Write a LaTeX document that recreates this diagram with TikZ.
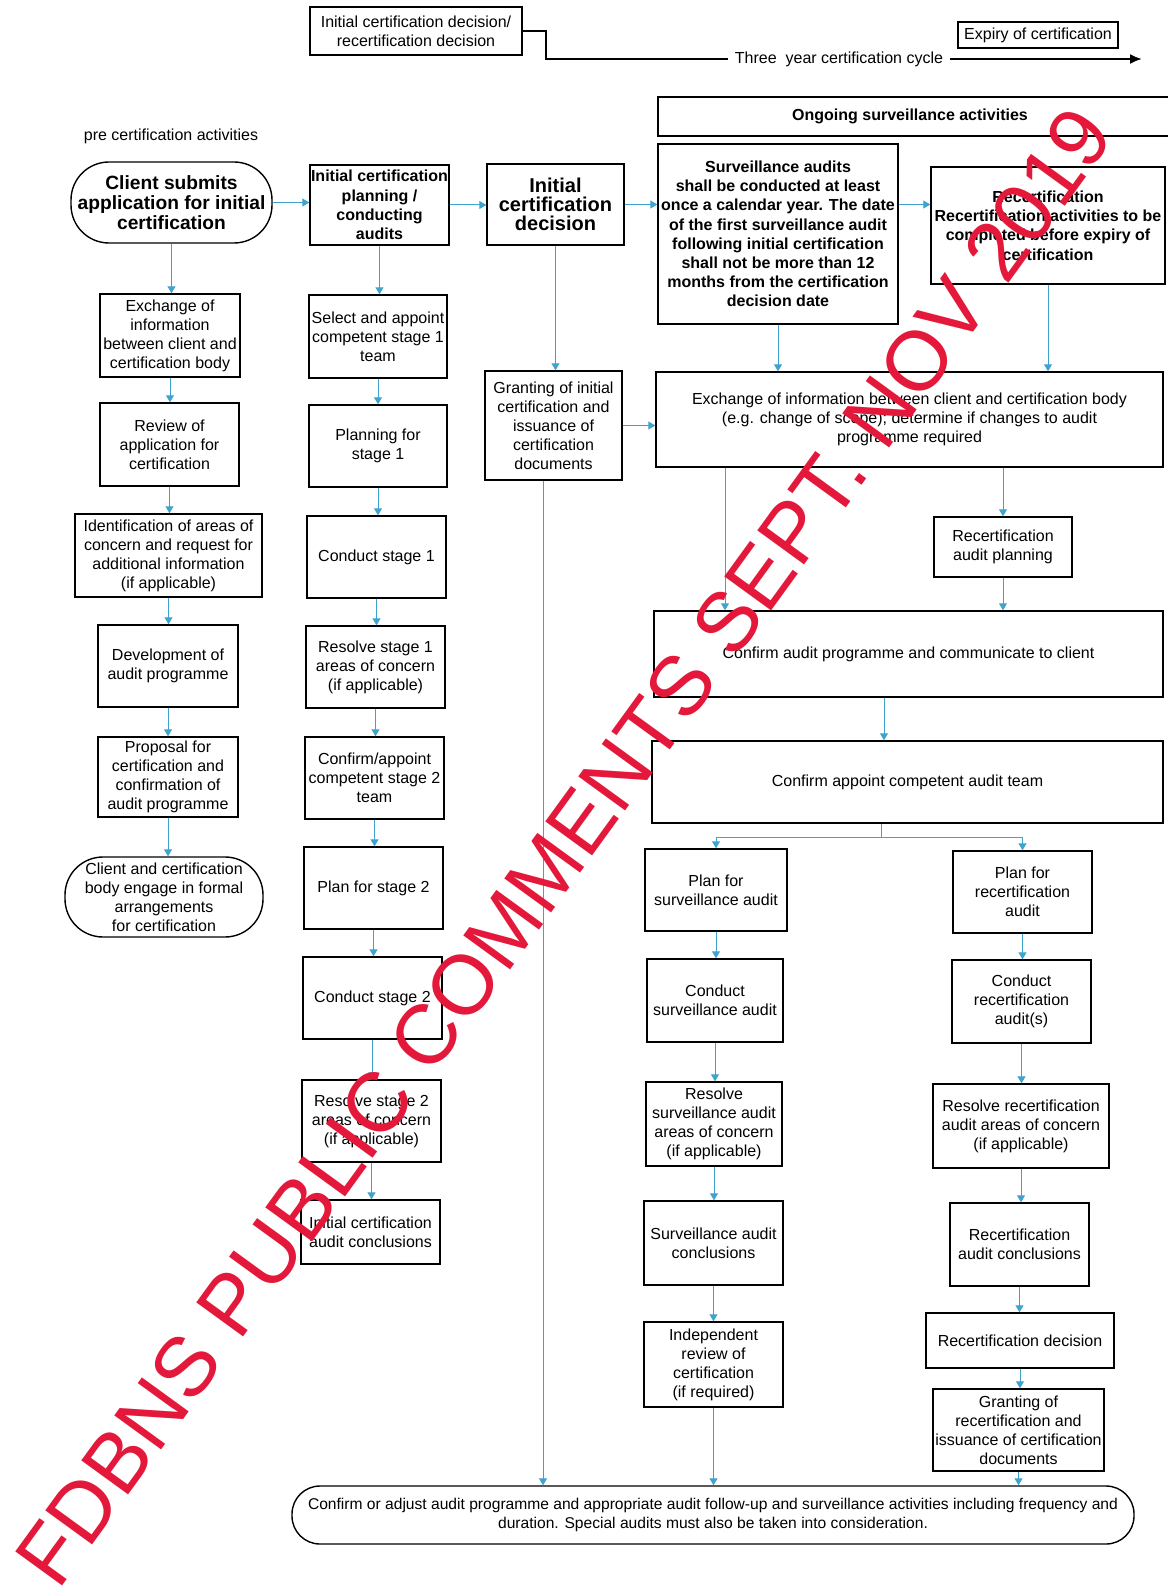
\documentclass[tikz,border=0pt]{standalone}
\usepackage{fontspec}
\setmainfont{Liberation Sans}
\usepackage{graphicx}
\usetikzlibrary{arrows.meta}

\definecolor{linkblue}{RGB}{62,163,205}
\definecolor{stampred}{RGB}{228,24,58}

\tikzset{
  stepbox/.style={draw, line width=0.7pt, inner sep=0pt, align=center, font=\fontsize{8}{9.5}\selectfont},
  ovalbox/.style={stepbox, rounded corners=19pt},
  headbox/.style={stepbox, font=\fontsize{8}{9.6}\selectfont\bfseries},
  flow/.style={draw=linkblue, line width=0.5pt, -{Triangle[width=4pt,length=3.5pt]}},
  feed/.style={draw=linkblue, line width=0.5pt},
}

% box from corner (x1,y1) to corner (x2,y2), in pixels of the page
\newcommand{\stepnode}[7][]{%
  \pgfmathsetmacro\boxW{(#5-#3)*0.5}%
  \pgfmathsetmacro\boxH{(#6-#4)*0.5}%
  \node[stepbox, minimum width=\boxW pt, minimum height=\boxH pt, #1] (#2) at ({(#3+#5)/2},{(#4+#6)/2}) {#7};}

\begin{document}
\begin{tikzpicture}[x=0.5pt, y=-0.5pt]
\useasboundingbox (0,0) rectangle (1167,1589);

% certification cycle
\stepnode{cert}{310}{7}{522}{55}{Initial certification decision/\\recertification decision}
\stepnode{expiry}{958}{22}{1118}{48}{Expiry of certification}
\node[font=\fontsize{8}{9.5}\selectfont] (cyc) at (839,59) {Three~ year certification cycle};
\coordinate (cycEnd) at (1142,59);
\draw[line width=1pt] (cert.east) -- ++(23,0) |- (cyc.west);
\draw[line width=1pt, -{Latex[length=6pt,width=5pt]}] (cyc.east) -- (cycEnd);

\draw[line width=1.2pt] (1175,97) -| (658,136) -- (1175,136);
\node[font=\fontsize{8}{9.5}\selectfont\bfseries] (ongoing) at (910,116) {Ongoing surveillance activities};
\node[font=\fontsize{8}{9.5}\selectfont] (pre) at (171,136) {pre certification activities};

% top row
\stepnode[ovalbox, font=\fontsize{9.6}{10}\selectfont\bfseries]{client}{71}{162}{272}{243}{Client submits\\application for initial\\certification}
\stepnode[headbox]{plan}{310}{165}{449}{245}{Initial certification\\planning /\\conducting\\audits}
\stepnode[headbox, font=\fontsize{10}{9.6}\selectfont\bfseries]{idec}{487}{164}{624}{245}{Initial\\certification\\decision}
\stepnode[headbox]{surv}{658}{144}{898}{324}{Surveillance audits\\shall be conducted at least\\once a calendar year. The date\\of the first surveillance audit\\following initial certification\\shall not be more than 12\\months from the certification\\decision date}
\stepnode[headbox]{recert}{931}{167}{1165}{284}{Recertification\\Recertification activities to be\\completed before expiry of\\certification}

% pre certification column
\stepnode{exch}{100}{294}{240}{377}{Exchange of\\information\\between client and\\certification body}
\stepnode{review}{100}{403}{239}{486}{Review of\\application for\\certification}
\stepnode{ident}{75}{514}{262}{597}{Identification of areas of\\concern and request for\\additional information\\(if applicable)}
\stepnode{devel}{98}{625}{238}{707}{Development of\\audit programme}
\stepnode{propo}{98}{737}{238}{817}{Proposal for\\certification and\\confirmation of\\audit programme}
\stepnode[ovalbox]{engage}{65}{857}{263}{937}{Client and certification\\body engage in formal\\arrangements\\for certification}

% initial audit column
\stepnode{team1}{309}{295}{447}{378}{Select and appoint\\competent stage 1\\team}
\stepnode{plan1}{309}{405}{447}{487}{Planning for\\stage 1}
\stepnode{cond1}{307}{516}{446}{598}{Conduct stage 1}
\stepnode{res1}{306}{626}{445}{708}{Resolve stage 1\\areas of concern\\(if applicable)}
\stepnode{team2}{305}{737}{444}{819}{Confirm/appoint\\competent stage 2\\team}
\stepnode{plan2}{304}{847}{443}{929}{Plan for stage 2}
\stepnode{cond2}{303}{957}{442}{1039}{Conduct stage 2}
\stepnode{res2}{302}{1080}{441}{1162}{Resolve stage 2\\areas of concern\\(if applicable)}
\stepnode{concl}{301}{1200}{440}{1264}{Initial certification\\audit conclusions}

\stepnode{grant}{485}{371}{622}{480}{Granting of initial\\certification and\\issuance of\\certification\\documents}

% surveillance / recertification
\stepnode{info}{656}{372}{1163}{467}{Exchange of information between client and certification body\\(e.g. change of scope); determine if changes to audit\\programme required}
\stepnode{rplan}{934}{517}{1072}{577}{Recertification\\audit planning}
\stepnode{prog}{654}{611}{1163}{697}{Confirm audit programme and communicate to client}
\stepnode{team}{652}{741}{1163}{823}{Confirm appoint competent audit team}

\stepnode{splan}{645}{849}{787}{931}{Plan for\\surveillance audit}
\stepnode{scond}{647}{959}{783}{1042}{Conduct\\surveillance audit}
\stepnode{sres}{646}{1082}{782}{1166}{Resolve\\surveillance audit\\areas of concern\\(if applicable)}
\stepnode{sconcl}{644}{1201}{783}{1285}{Surveillance audit\\conclusions}
\stepnode{indep}{644}{1322}{783}{1407}{Independent\\review of\\certification\\(if required)}

\stepnode{rpl}{953}{851}{1092}{933}{Plan for\\recertification\\audit}
\stepnode{rcond}{952}{960}{1091}{1043}{Conduct\\recertification\\audit(s)}
\stepnode{rres}{933}{1084}{1109}{1168}{Resolve recertification\\audit areas of concern\\(if applicable)}
\stepnode{rconcl}{950}{1203}{1089}{1286}{Recertification\\audit conclusions}
\stepnode{rdec}{926}{1313}{1114}{1368}{Recertification decision}
\stepnode{rgrant}{933}{1389}{1104}{1471}{Granting of\\recertification and\\issuance of certification\\documents}

\stepnode[ovalbox, rounded corners=14pt, font=\fontsize{7.8}{9.5}\selectfont]{final}{292}{1486}{1134}{1544}{Confirm or adjust audit programme and appropriate audit follow-up and surveillance activities including frequency and\\duration. Special audits must also be taken into consideration.}

% connectors
\draw[flow] (client.east) -- (client.east -| plan.west);
\draw[flow] (plan.east) -- (plan.east -| idec.west);
\draw[flow] (idec.east) -- (idec.east -| surv.west);
\draw[flow] (surv.east |- idec.east) -- (recert.west |- idec.east);

\draw[flow] (client.south) -- (client.south |- exch.north);
\draw[flow] (exch.south) -- (exch.south |- review.north);
\draw[flow] (review.south) -- (review.south |- ident.north);
\draw[flow] (ident.south) -- (ident.south |- devel.north);
\draw[flow] (devel.south) -- (devel.south |- propo.north);
\draw[flow] (propo.south) -- (propo.south |- engage.north);

\draw[flow] (plan.south) -- (plan.south |- team1.north);
\draw[flow] (team1.south) -- (team1.south |- plan1.north);
\draw[flow] (plan1.south) -- (plan1.south |- cond1.north);
\draw[flow] (cond1.south) -- (cond1.south |- res1.north);
\draw[flow] (res1.south) -- (res1.south |- team2.north);
\draw[flow] (team2.south) -- (team2.south |- plan2.north);
\draw[flow] (plan2.south) -- (plan2.south |- cond2.north);
\draw[flow] (cond2.south) -- (cond2.south |- res2.north);
\draw[flow] (res2.south) -- (res2.south |- concl.north);

\coordinate (laneG) at (543,0);
\coordinate (laneA) at (725,0);
\coordinate (laneB) at (884,0);
\coordinate (split) at (881,837);

\draw[flow] (idec.south) -- (idec.south |- grant.north);
\draw[flow] (grant.south -| laneG) -- (final.north -| laneG);
\draw[flow] (grant.east) -- (grant.east -| info.west);
\draw[flow] (surv.south) -- (surv.south |- info.north);
\draw[flow] (recert.south) -- (recert.south |- info.north);
\draw[flow] (info.south -| rplan.north) -- (rplan.north);
\draw[flow] (info.south -| laneA) -- (prog.north -| laneA);
\draw[flow] (rplan.south) -- (rplan.south |- prog.north);
\draw[flow] (prog.south -| laneB) -- (team.north -| laneB);
\draw[feed] (team.south -| split) -- (split);
\draw[flow] (split) -| (splan.north);
\draw[flow] (split) -| (rpl.north);

\draw[flow] (splan.south) -- (splan.south |- scond.north);
\draw[flow] (scond.south) -- (scond.south |- sres.north);
\draw[flow] (sres.south) -- (sres.south |- sconcl.north);
\draw[flow] (sconcl.south) -- (sconcl.south |- indep.north);
\draw[flow] (indep.south) -- (indep.south |- final.north);

\draw[flow] (rpl.south) -- (rpl.south |- rcond.north);
\draw[flow] (rcond.south) -- (rcond.south |- rres.north);
\draw[flow] (rres.south) -- (rres.south |- rconcl.north);
\draw[flow] (rconcl.south) -- (rconcl.south |- rdec.north);
\draw[flow] (rdec.south) -- (rdec.south |- rgrant.north);
\draw[flow] (rgrant.south) -- (rgrant.south |- final.north);

% stamp
\node[rotate=54, anchor=base west, inner sep=0pt, text=stampred] (stamp) at (58,1592) {\resizebox{900pt}{!}{FDBNS PUBLIC COMMENTS SEPT. NOV 2019}};
\end{tikzpicture}
\end{document}
